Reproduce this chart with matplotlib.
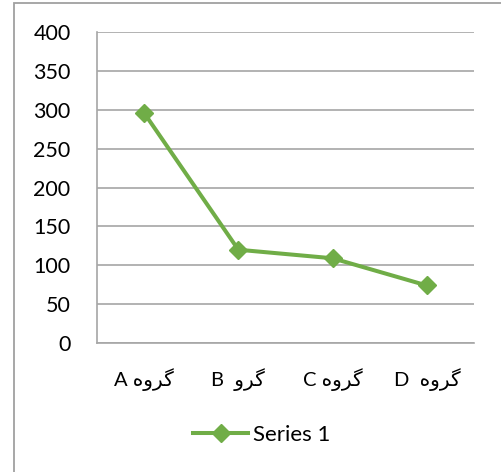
import matplotlib.pyplot as plt
from matplotlib.patches import Rectangle

# shaped + reversed for display, since matplotlib does no Arabic shaping
goroh = '\uFEE9\uFEED\uFEAE\uFB94'
goro = '\uFEED\uFEAE\uFB94'
categories = ['A ' + goroh, 'B  ' + goro, 'C ' + goroh, 'D  ' + goroh]
values = [296, 120, 109, 74]
yticks = [0, 50, 100, 150, 200, 250, 300, 350, 400]

plt.rcParams['font.family'] = ['Lato', 'DejaVu Sans']
plt.rcParams['font.size'] = 15.5

fig = plt.figure(figsize=(5.01, 4.72), dpi=100)
ax = fig.add_axes([0.1936, 0.2733, 0.7524, 0.6587])

grid_c = '#a6a6a6'
x = list(range(len(categories)))
ax.plot(x, values, color='#70ad47', lw=2.9, marker='D', ms=9.5, label='Series 1', zorder=3)

ax.set_xlim(-0.5, len(categories) - 0.5)
ax.set_ylim(0, 400)
ax.set_yticks(yticks)
ax.set_xticks(x)
ax.set_xticklabels(categories, fontsize=14.5)
ax.yaxis.grid(True, color=grid_c, lw=1.2)
ax.set_axisbelow(True)
for s in ['top', 'right']:
    ax.spines[s].set_visible(False)
for s in ['left', 'bottom']:
    ax.spines[s].set_color(grid_c)
    ax.spines[s].set_linewidth(1.2)
ax.tick_params(length=0, colors='black')
ax.tick_params(axis='y', pad=19, labelsize=15.5)
ax.tick_params(axis='x', pad=18)

fig.legend(loc='center', bbox_to_anchor=(0.523, 0.078), frameon=False,
           handlelength=2.46, handletextpad=0.25, fontsize=16)

fig.patches.append(Rectangle((0.028, -0.1), 1.2, 1.0936, transform=fig.transFigure,
                             fill=False, edgecolor='#a0a0a0', lw=1.3))

fig.savefig('out.png', dpi=100)
